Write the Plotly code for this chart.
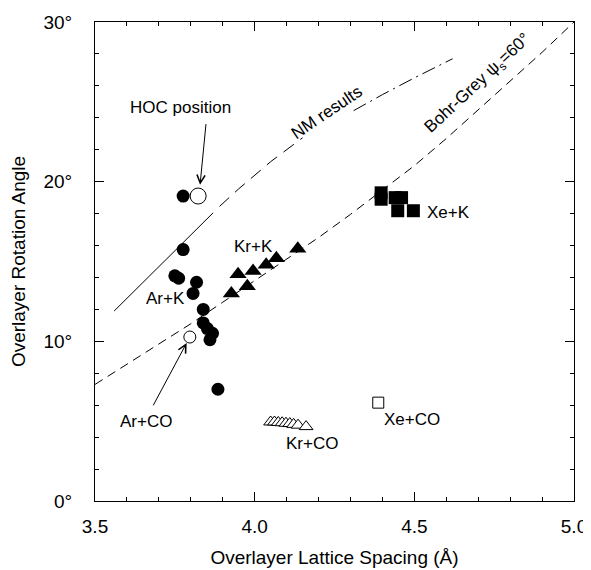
import plotly.graph_objects as go

# ---------------- data ----------------
ark_x = [3.776, 3.776, 3.750, 3.762, 3.818, 3.807, 3.839, 3.839, 3.852, 3.868, 3.860, 3.885]
ark_y = [19.1, 15.75, 14.1, 13.95, 13.7, 13.0, 12.0, 11.15, 10.8, 10.5, 10.1, 7.0]

hoc_x = [3.823]
hoc_y = [19.1]

arco_x = [3.797]
arco_y = [10.27]

krk_x = [3.927, 3.948, 3.977, 3.995, 4.036, 4.068, 4.135]
krk_y = [13.0, 14.2, 13.45, 14.4, 14.8, 15.2, 15.8]

krco_x = [4.050, 4.062, 4.074, 4.086, 4.098, 4.110, 4.122, 4.136, 4.161]
krco_y = [4.95, 4.95, 4.92, 4.90, 4.87, 4.85, 4.80, 4.75, 4.66]

xek_x = [4.396, 4.396, 4.440, 4.460, 4.448, 4.497]
xek_y = [19.3, 18.9, 19.0, 19.0, 18.18, 18.18]

xeco_x = [4.387]
xeco_y = [6.16]

bg_x = [3.5, 3.6, 3.7, 3.8, 3.9, 4.0, 4.1, 4.2, 4.3, 4.4, 4.5, 4.6, 4.7, 4.8, 4.9, 5.0]
bg_y = [7.3, 8.55, 9.8, 11.1, 12.45, 13.8, 15.15, 16.5, 17.95, 19.45, 21.0, 22.7, 24.5, 26.3, 28.1, 30.0]

nm_solid_x = [3.56, 3.64, 3.70, 3.78, 3.87]
nm_solid_y = [11.9, 13.5, 14.65, 16.3, 18.05]
nm_dash_x = [3.89, 3.95, 4.05, 4.15]
nm_dash_y = [18.45, 19.55, 21.25, 22.75]
nm_dd_x = [4.31, 4.40, 4.50, 4.62]
nm_dd_y = [24.45, 25.45, 26.5, 27.7]

x_tickvals = [3.5, 4.0, 4.5, 5.0]
x_ticktext = ["3.5", "4.0", "4.5", "5.0"]
y_tickvals = [0, 10, 20, 30]
y_ticktext = ["0°", "10°", "20°", "30°"]

FONT = "Liberation Sans, Arial, sans-serif"

fig = go.Figure()

# theory curves
fig.add_trace(go.Scatter(x=bg_x, y=bg_y, mode="lines",
                         line=dict(color="black", width=1, dash="9px,6px"), hoverinfo="skip"))
fig.add_trace(go.Scatter(x=nm_solid_x, y=nm_solid_y, mode="lines",
                         line=dict(color="black", width=1), hoverinfo="skip"))
fig.add_trace(go.Scatter(x=nm_dash_x, y=nm_dash_y, mode="lines",
                         line=dict(color="black", width=1, dash="13px,8px"), hoverinfo="skip"))
fig.add_trace(go.Scatter(x=nm_dd_x, y=nm_dd_y, mode="lines",
                         line=dict(color="black", width=1, dash="14px,5px,2px,5px"), hoverinfo="skip"))

# data
fig.add_trace(go.Scatter(x=ark_x, y=ark_y, mode="markers",
                         marker=dict(symbol="circle", size=13, color="black")))
fig.add_trace(go.Scatter(x=hoc_x, y=hoc_y, mode="markers",
                         marker=dict(symbol="circle", size=16, color="white",
                                     line=dict(color="black", width=1))))
fig.add_trace(go.Scatter(x=arco_x, y=arco_y, mode="markers",
                         marker=dict(symbol="circle", size=12, color="white",
                                     line=dict(color="black", width=1))))
fig.add_trace(go.Scatter(x=krk_x, y=krk_y, mode="markers",
                         marker=dict(symbol="triangle-up", size=15, color="black")))
fig.add_trace(go.Scatter(x=krco_x, y=krco_y, mode="markers",
                         marker=dict(symbol="triangle-up", size=12, color="white",
                                     line=dict(color="black", width=1))))
fig.add_trace(go.Scatter(x=xek_x, y=xek_y, mode="markers",
                         marker=dict(symbol="square", size=13, color="black")))
fig.add_trace(go.Scatter(x=xeco_x, y=xeco_y, mode="markers",
                         marker=dict(symbol="square", size=11, color="white",
                                     line=dict(color="black", width=1))))

lab = dict(family=FONT, size=17, color="black")
annotations = [
    dict(x=3.769, y=24.64, text="HOC position", showarrow=False, font=lab),
    dict(x=3.829, y=19.8, ax=3.848, ay=23.7, axref="x", ayref="y", text="",
         showarrow=True, arrowhead=5, arrowsize=1.6, arrowwidth=1, arrowcolor="black"),
    dict(x=3.722, y=12.71, text="Ar+K", showarrow=False, font=lab),
    dict(x=3.995, y=15.94, text="Kr+K", showarrow=False, font=lab),
    dict(x=4.606, y=18.04, text="Xe+K", showarrow=False, font=lab),
    dict(x=4.494, y=5.08, text="Xe+CO", showarrow=False, font=lab),
    dict(x=4.181, y=3.62, text="Kr+CO", showarrow=False, font=lab),
    dict(x=3.66, y=5.0, text="Ar+CO", showarrow=False, font=lab),
    dict(x=3.787, y=9.9, ax=3.68, ay=5.9, axref="x", ayref="y", text="",
         showarrow=True, arrowhead=5, arrowsize=1.6, arrowwidth=1, arrowcolor="black"),
    dict(x=4.225, y=24.35, text="NM results", showarrow=False, font=lab, textangle=-34),
    dict(x=4.70, y=26.1, text="Bohr-Grey ψ<sub>s</sub>=60°", showarrow=False,
         font=lab, textangle=-43),
]

axis_common = dict(showline=True, linecolor="black", linewidth=1, mirror="ticks",
                   ticks="inside", ticklen=9, tickwidth=1, tickcolor="black",
                   showgrid=False, zeroline=False, automargin=False,
                   tickfont=dict(family=FONT, size=19, color="black"))

# the page body adds an 8px offset, so the figure is sized to the visible window
fig.update_layout(
    template="none",
    width=583, height=562,
    margin=dict(l=87, r=17, t=14, b=69),
    paper_bgcolor="white", plot_bgcolor="white",
    showlegend=False,
    annotations=annotations,
    xaxis=dict(range=[3.5, 5.0], tickvals=x_tickvals, ticktext=x_ticktext,
               minor=dict(ticks="inside", ticklen=4, dtick=0.1, tickcolor="black", showgrid=False),
               ticklabelstandoff=8,
               title=dict(text="Overlayer Lattice Spacing (Å)", standoff=14,
                          font=dict(family=FONT, size=19, color="black")),
               **axis_common),
    yaxis=dict(range=[0, 30], tickvals=y_tickvals, ticktext=y_ticktext,
               minor=dict(ticks="inside", ticklen=4, dtick=2, tickcolor="black", showgrid=False),
               ticklabelstandoff=18,
               title=dict(text="Overlayer Rotation Angle", standoff=18,
                          font=dict(family=FONT, size=19, color="black")),
               **axis_common),
)

fig.write_html("out.html")
